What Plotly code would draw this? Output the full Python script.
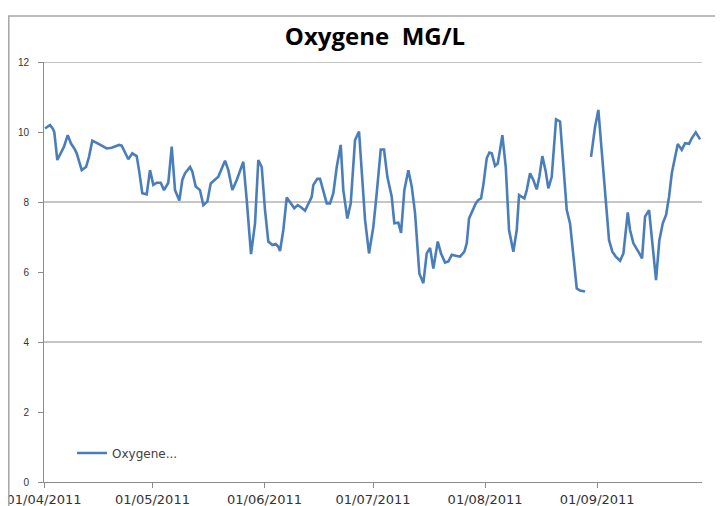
import pandas as pd
import plotly.graph_objects as go

# Days elapsed since 01/04/2011 for each read point, and oxygen values (mg/L)
day_offsets = [
    0.28, 1.66, 2.4, 2.85, 3.68, 4.62, 5.53, 6.56, 7.47, 8.38, 9.05, 10.43, 11.62, 12.45,
    13.36, 14.58, 15.96, 17.34, 18.73, 20.75, 21.49, 22.41, 23.32, 24.43, 25.64, 26.28,
    27.19, 28.41, 29.32, 30.24, 31.18, 32.28, 33.2, 34.38, 35.33, 36.24, 37.43,
    38.26, 39.0, 40.39, 41.02, 41.96, 43.15, 44.07, 45.17, 46.11, 47.3, 48.22, 49.16,
    50.07, 50.98, 52.09, 53.31, 55.13, 56.07, 57.26, 58.37, 59.28, 60.22, 61.13, 62.05,
    63.15, 64.09, 64.81, 65.28, 66.2, 67.14, 68.05, 69.24, 70.18, 71.09, 72.2, 73.11,
    74.05, 74.5, 75.6, 76.35, 77.26, 78.2, 79.11, 80.03, 80.97, 82.07, 82.79, 83.9,
    84.84, 86.03, 87.14, 87.88, 88.8, 89.9, 91.09, 92.03, 93.14, 94.05, 94.97, 96.18,
    96.9, 98.01, 98.76, 99.67, 100.78, 101.72, 102.63, 103.82, 104.92, 105.86, 106.78,
    107.69, 108.91, 109.82, 110.93, 111.84, 112.78, 114.16, 115.08, 116.27, 116.93,
    117.57, 118.48, 119.42, 120.14, 120.89, 121.52, 122.46, 123.18, 123.85, 124.76,
    125.5, 126.14, 126.78, 127.72, 128.63, 129.82, 130.76, 131.4, 132.14, 132.86,
    133.53, 134.44, 135.35, 136.29, 137.01, 137.84, 138.78, 139.5, 140.44, 141.63,
    142.74, 143.65, 144.59, 145.5, 146.42, 147.36, 148.27, 149.65,
    150.5,
    151.31, 152.42, 153.33, 154.27, 154.91, 155.66, 156.29, 157.21, 158.15, 159.34,
    160.26, 161.47, 162.1, 163.02, 163.96, 164.68, 165.42, 166.25, 167.36, 168.27,
    169.29, 170.21, 171.15, 172.06, 172.89, 173.64, 174.55, 175.3, 176.4, 177.32,
    178.42, 179.16, 180.27, 181.47,
]
oxygen = [
    10.1, 10.2, 10.1, 10.0, 9.2, 9.39, 9.58, 9.91, 9.67, 9.53, 9.39, 8.91, 9.0, 9.29,
    9.75, 9.69, 9.61, 9.53, 9.55, 9.63, 9.61, 9.39, 9.22, 9.39, 9.31, 8.91,
    8.25, 8.22, 8.91, 8.49, 8.55, 8.55, 8.34, 8.55, 9.58, 8.34, 8.04,
    8.63, 8.82, 9.0, 8.87, 8.44, 8.34, 7.91, 8.01, 8.53, 8.63, 8.72, 8.96,
    9.18, 8.91, 8.34, 8.63, 9.15, 8.06, 6.51, 7.39, 9.2, 9.0, 7.77, 6.87,
    6.77, 6.8, 6.72, 6.6, 7.2, 8.13, 8.01, 7.82, 7.91, 7.85, 7.75, 7.96,
    8.15, 8.49, 8.66, 8.66, 8.34, 7.96, 7.96, 8.25, 9.0, 9.63, 8.34, 7.53,
    7.96, 9.77, 10.01, 9.0, 7.49, 6.53, 7.29, 8.25, 9.5, 9.5, 8.72, 8.15,
    7.39, 7.41, 7.12, 8.34, 8.91, 8.44, 7.68, 5.96, 5.68, 6.53, 6.69,
    6.1, 6.87, 6.53, 6.27, 6.3, 6.49, 6.46, 6.44, 6.58, 6.82,
    7.53, 7.72, 7.96, 8.06, 8.1, 8.49, 9.25, 9.41, 9.39, 9.03,
    9.1, 9.49, 9.91, 9.0, 7.2, 6.58, 7.2, 8.2, 8.15, 8.1,
    8.34, 8.82, 8.63, 8.36, 8.72, 9.31, 8.87, 8.39, 8.72, 10.36,
    10.3, 9.1, 7.77, 7.39, 6.53, 5.53, 5.47, 5.44,
    None,
    9.29, 10.15, 10.63, 9.39, 8.63, 7.77, 6.91, 6.58, 6.44, 6.32,
    6.53, 7.7, 7.2, 6.82, 6.63, 6.53, 6.39, 7.58, 7.77, 6.91,
    5.77, 6.91, 7.39, 7.63, 8.15, 8.82, 9.29, 9.66, 9.49, 9.68,
    9.66, 9.82, 9.99, 9.79,
]

start_date = "2011-04-01"
end_date = "2011-09-30"
month_ticks = ["2011-04-01", "2011-05-01", "2011-06-01", "2011-07-01", "2011-08-01", "2011-09-01"]
month_labels = ["01/04/2011", "01/05/2011", "01/06/2011", "01/07/2011", "01/08/2011", "01/09/2011"]
y_ticks = [0, 2, 4, 6, 8, 10, 12]
grid_levels = [4, 8, 12]

dates = pd.Timestamp(start_date) + pd.to_timedelta(day_offsets, unit="D")

# the page body adds an 8px offset, so the figure is sized to end at the window edge
W, H = 715, 498
L, R, T, B = 36, 21, 54, 24
pw, ph = W - L - R, H - T - B

def px_x(p):
    return (p - L) / pw

def px_y(p):
    return (H - B - p) / ph

LINE = "#4a7ebb"
GRID = "#8c8c8c"
FONT = "Liberation Sans, Arial, sans-serif"

fig = go.Figure()
fig.add_trace(go.Scatter(
    x=dates, y=oxygen, mode="lines", name="Oxygene...",
    line=dict(color=LINE, width=2.6), connectgaps=False,
))

shapes = []
for g in grid_levels:
    shapes.append(dict(type="line", xref="paper", yref="y", x0=0, x1=1, y0=g, y1=g,
                       line=dict(color=GRID, width=1), layer="below"))
# outer chart border
shapes.append(dict(type="rect", xref="paper", yref="paper",
                   x0=px_x(0.8), x1=px_x(714), y0=px_y(505), y1=px_y(8),
                   line=dict(color="#a6a6a6", width=1.5), fillcolor="rgba(0,0,0,0)"))

fig.update_layout(
    width=W, height=H, autosize=False,
    margin=dict(l=L, r=R, t=T, b=B, pad=0, autoexpand=False),
    paper_bgcolor="white", plot_bgcolor="white",
    font=dict(family=FONT, size=11, color="#333333"),
    title=dict(text="<b>Oxygene  MG/L</b>", xref="container", x=367 / W, xanchor="center",
               yref="container", y=1 - 29 / H, yanchor="middle",
               font=dict(family="Open Sans, sans-serif", size=24, color="black")),
    showlegend=True,
    legend=dict(x=px_x(64), y=px_y(445), xanchor="left", yanchor="middle",
                bgcolor="rgba(0,0,0,0)", font=dict(family="DejaVu Sans, sans-serif",
                                                   size=12, color="#404040"),
                itemwidth=30),
    shapes=shapes,
    xaxis=dict(type="date", range=[start_date, end_date], automargin=False,
               tickvals=month_ticks, ticktext=month_labels,
               ticklabeloverflow="allow",
               showgrid=False, zeroline=False,
               showline=True, linecolor=GRID, linewidth=1,
               ticks="outside", ticklen=5, tickcolor=GRID,
               ticklabelstandoff=0,
               tickfont=dict(family="DejaVu Sans, sans-serif", size=13, color="#333333")),
    yaxis=dict(range=[0, 12], tickvals=y_ticks, automargin=False,
               ticklabeloverflow="allow",
               showgrid=False, zeroline=False,
               showline=True, linecolor=GRID, linewidth=1,
               ticks="outside", ticklen=5, tickcolor=GRID,
               ticklabelstandoff=7,
               tickfont=dict(size=10, color="#333333")),
)

fig.write_html("out.html")
